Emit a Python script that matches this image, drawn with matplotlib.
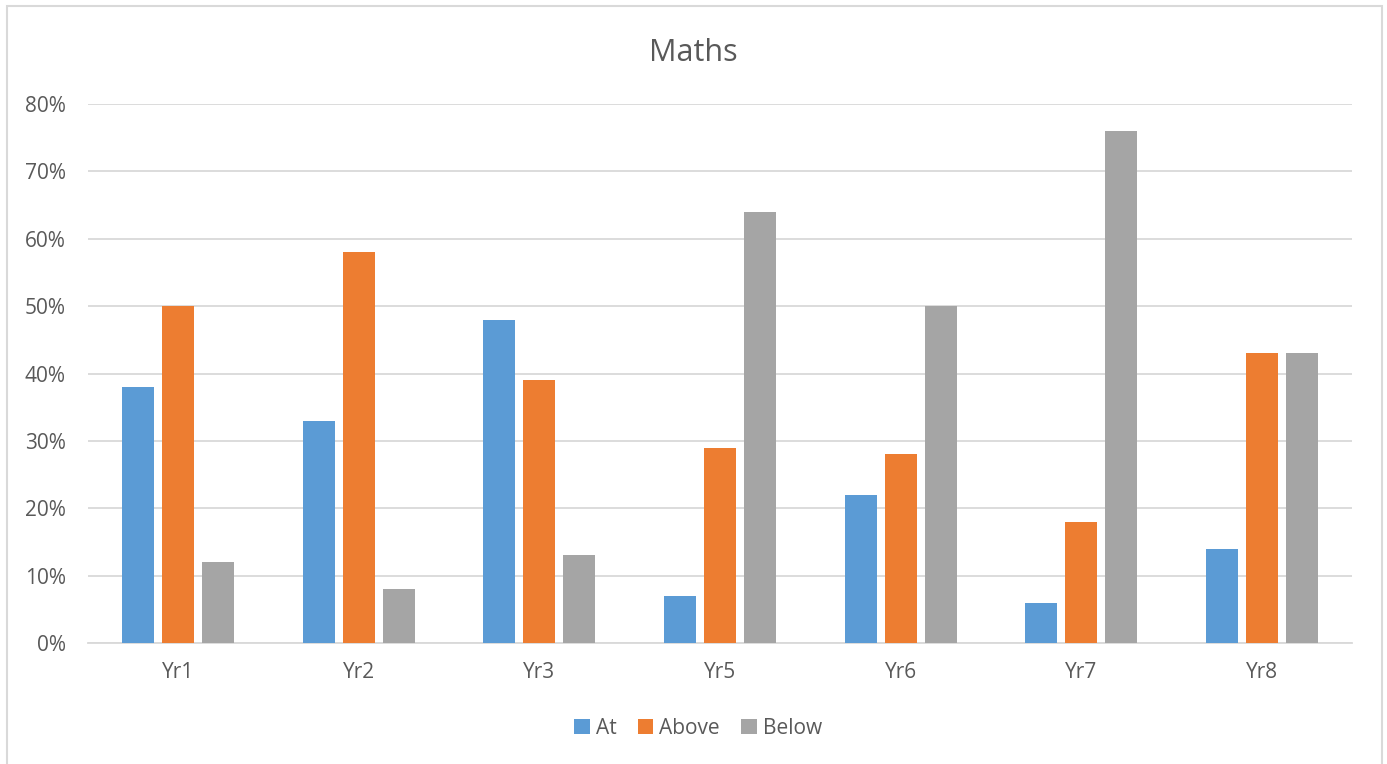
import matplotlib
matplotlib.use("Agg")
import matplotlib.pyplot as plt
from matplotlib.patches import Rectangle
import numpy as np

categories = ["Yr1", "Yr2", "Yr3", "Yr5", "Yr6", "Yr7", "Yr8"]
at_vals = [38, 33, 48, 7, 22, 6, 14]
above_vals = [50, 58, 39, 29, 28, 18, 43]
below_vals = [12, 8, 13, 64, 50, 76, 43]
series_names = ["At", "Above", "Below"]
colors = ["#5B9BD5", "#ED7D31", "#A5A5A5"]
yticks = [0, 10, 20, 30, 40, 50, 60, 70, 80]

plt.rcParams['font.family'] = ['Open Sans', 'DejaVu Sans']
text_color = "#595959"

W, H = 1387, 764
fig = plt.figure(figsize=(W/100, H/100), dpi=100)
fig.patch.set_facecolor("white")

# outer border
fig.add_artist(Rectangle((7/W, -0.01), (1382-7)/W, (H-6)/H + 0.01, transform=fig.transFigure,
                         fill=False, edgecolor="#D9D9D9", linewidth=1.5))

left, right = 88/W, 1352/W
bottom, top = 1 - 643/H, 1 - 104/H
ax = fig.add_axes([left, bottom, right-left, top-bottom])

x = np.arange(len(categories))
width = 0.177
step = 0.2215
for i, (vals, c, name) in enumerate(zip([at_vals, above_vals, below_vals], colors, series_names)):
    ax.bar(x + (i-1)*step, vals, width=width, color=c, label=name, zorder=3)

ax.set_xlim(-0.5, len(categories)-0.5)
ax.set_ylim(0, 80)
ax.set_yticks(yticks)
ax.set_yticklabels([f"{v}%" for v in yticks])
ax.set_xticks(x)
ax.set_xticklabels(categories)
ax.grid(axis="y", color="#D9D9D9", linewidth=1.3, zorder=0)
for s in ["top", "right", "left"]:
    ax.spines[s].set_visible(False)
ax.spines["bottom"].set_color("#D9D9D9")
ax.spines["bottom"].set_linewidth(1.3)
ax.tick_params(axis="both", length=0, labelsize=15, colors=text_color)
ax.tick_params(axis="y", pad=16)
ax.tick_params(axis="x", pad=14)

fig.text(0.5, 1 - 53/H, "Maths", ha="center", va="center", fontsize=22, color=text_color)

leg = fig.legend(loc="center", bbox_to_anchor=(698/W, 1 - 728/H), ncol=3, frameon=False,
                 fontsize=15, handlelength=0.75, handleheight=0.75, handletextpad=0.3,
                 columnspacing=1.0)
for t in leg.get_texts():
    t.set_color(text_color)

fig.savefig("out.png", dpi=100)
